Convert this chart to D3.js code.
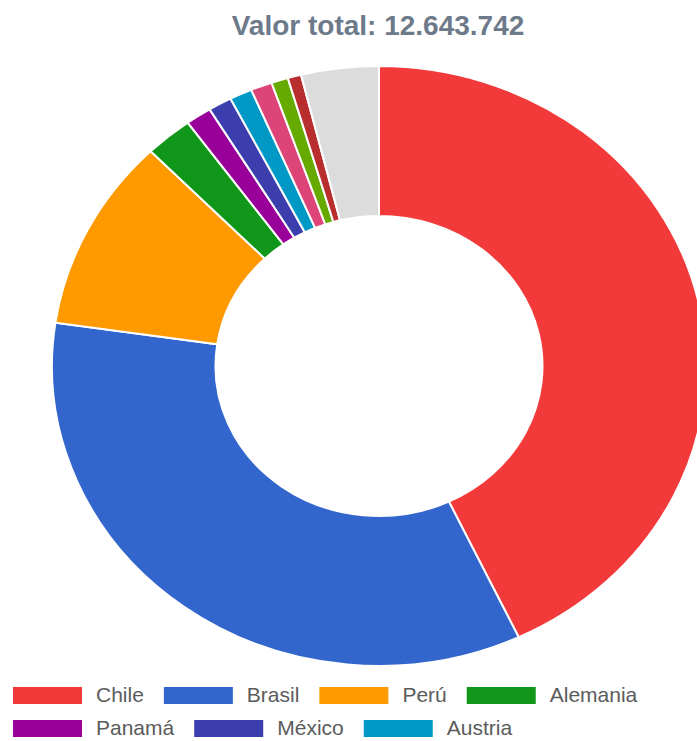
<!DOCTYPE html>
<html>
<head>
<meta charset="utf-8">
<script src="https://cdn.jsdelivr.net/npm/d3@7/dist/d3.min.js"></script>
<style>
  html, body { margin: 0; padding: 0; background: #fff; overflow: hidden; }
  svg { display: block; }
</style>
</head>
<body>
<div id="chart"></div>
<script>
  // values (angles)
  var countries = ["Chile", "Brasil", "Perú", "Alemania", "Panamá", "México", "Austria",
    "Estados Unidos", "Argentina", "Colombia", "Otro"];
  var values = [5433300, 4341000, 1313500, 298500, 161600, 147500, 140500,
    133500, 105400, 84300, 484642];
  var colors = ["#f23a3a", "#3366cc", "#ff9900", "#109618", "#990099", "#3b3eac", "#0099c6",
    "#dd4477", "#66aa00", "#b82e2e", "#dcdcdc"];

  var width = 697, height = 741;
  var cx = 379, cy = 366;
  var outerR = 300, innerR = 150, stretchX = 1.09;

  var svg = d3.select("#chart").append("svg")
    .attr("width", width)
    .attr("height", height);

  var total = d3.sum(values);
  var fmt = d3.formatLocale({decimal: ",", thousands: ".", grouping: [3], currency: ["", ""]}).format(",d");

  svg.append("text")
    .attr("x", 378)
    .attr("y", 35)
    .attr("text-anchor", "middle")
    .attr("font-family", "'Liberation Sans', Arial, sans-serif")
    .attr("font-size", 28)
    .attr("font-weight", 700)
    .attr("fill", "#6d7a8a")
    .text("Valor total: " + fmt(total));

  var data = countries.map(function (name, i) {
    return {name: name, value: values[i], color: colors[i]};
  });

  var pie = d3.pie()
    .sort(null)
    .value(function (d) { return d.value; });

  var arc = d3.arc()
    .innerRadius(innerR)
    .outerRadius(outerR);

  svg.append("g")
    .attr("transform", "translate(" + cx + "," + cy + ") scale(" + stretchX + ",1)")
    .selectAll("path")
    .data(pie(data))
    .join("path")
    .attr("d", arc)
    .attr("fill", function (d) { return d.data.color; })
    .attr("stroke", "#fff")
    .attr("stroke-width", 2)
    .attr("vector-effect", "non-scaling-stroke");

  // legend, flowing left to right, at most two lines (the rest does not fit)
  var legend = svg.append("g")
    .attr("font-family", "'Liberation Sans', Arial, sans-serif")
    .attr("font-size", 21)
    .attr("fill", "#5b5b5b");

  var lx = 13, ly = 687, rowH = 33, row = 0, maxRows = 2;
  var swW = 69, swH = 17, gap = 14, itemGap = 20;

  data.forEach(function (d) {
    if (row >= maxRows) {
      return;
    }
    var item = legend.append("g");
    item.append("rect")
      .attr("width", swW)
      .attr("height", swH)
      .attr("fill", d.color);
    var label = item.append("text")
      .attr("x", swW + gap)
      .attr("y", 15)
      .text(d.name);
    var w = swW + gap + label.node().getComputedTextLength();
    if (lx + w > width - 5) {
      row += 1;
      if (row >= maxRows) {
        item.remove();
        return;
      }
      lx = 13;
      ly += rowH;
    }
    item.attr("transform", "translate(" + lx + "," + ly + ")");
    lx += w + itemGap;
  });
</script>
</body>
</html>
